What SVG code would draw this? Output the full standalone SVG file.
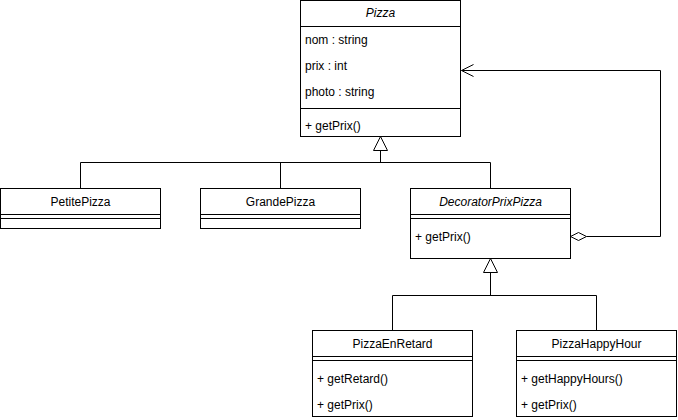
<svg xmlns="http://www.w3.org/2000/svg" width="678" height="420" viewBox="0 0 678 420">
<style>
.box{fill:#fff;stroke:#000;stroke-width:1}
.ln{stroke:#000;stroke-width:1;fill:none}
.t{font-family:"Liberation Sans",Arial,sans-serif;font-size:12px;fill:#000}
.c{text-anchor:middle}
.i{font-style:italic}
</style>
<rect width="678" height="420" fill="#fff"/>
<g id="connectors">
<path class="ln" d="M380.5 150 V162.5 M80.5 162.5 H490.5 M80.5 162.5 V188.5 M280.5 162.5 V188.5 M490.5 162.5 V188.5"/>
<polygon class="box" points="380.5,136.5 373.5,150.5 387.5,150.5"/>
<path class="ln" d="M490.5 272 V295.5 M392.5 295.5 H596.5 M392.5 295.5 V330.5 M596.5 295.5 V330.5"/>
<polygon class="box" points="490.5,258.5 483.5,272.5 497.5,272.5"/>
<path class="ln" d="M586.5 236.5 H660.5 V70.5 H461.5"/>
<polygon class="box" points="570.5,236.5 578.5,232.5 586.5,236.5 578.5,240.5"/>
<path class="ln" d="M473.5 64.5 L461.5 70.5 L473.5 76.5"/>
</g>
<g id="Pizza">
<rect class="box" x="300.5" y="0.5" width="160" height="136"/>
<path class="ln" d="M300.5 26.5 H460.5 M300.5 108.5 H460.5"/>
<text class="t c i" x="380.5" y="17">Pizza</text>
<text class="t" x="305" y="44">nom : string</text>
<text class="t" x="305" y="70">prix : int</text>
<text class="t" x="305" y="96">photo : string</text>
<text class="t" x="305" y="130">+ getPrix()</text>
</g>
<g id="PetitePizza">
<rect class="box" x="0.5" y="188.5" width="160" height="40"/>
<path class="ln" d="M0.5 214.5 H160.5 M0.5 218.5 H160.5"/>
<text class="t c" x="80.5" y="206">PetitePizza</text>
</g>
<g id="GrandePizza">
<rect class="box" x="200.5" y="188.5" width="160" height="40"/>
<path class="ln" d="M200.5 214.5 H360.5 M200.5 218.5 H360.5"/>
<text class="t c" x="280.5" y="206">GrandePizza</text>
</g>
<g id="DecoratorPrixPizza">
<rect class="box" x="410.5" y="188.5" width="160" height="70"/>
<path class="ln" d="M410.5 214.5 H570.5 M410.5 218.5 H570.5"/>
<text class="t c i" x="490.5" y="206">DecoratorPrixPizza</text>
<text class="t" x="415" y="241">+ getPrix()</text>
</g>
<g id="PizzaEnRetard">
<rect class="box" x="312.5" y="330.5" width="160" height="86"/>
<path class="ln" d="M312.5 356.5 H472.5 M312.5 360.5 H472.5"/>
<text class="t c" x="392.5" y="348">PizzaEnRetard</text>
<text class="t" x="317" y="383">+ getRetard()</text>
<text class="t" x="317" y="409">+ getPrix()</text>
</g>
<g id="PizzaHappyHour">
<rect class="box" x="516.5" y="330.5" width="160" height="86"/>
<path class="ln" d="M516.5 356.5 H676.5 M516.5 360.5 H676.5"/>
<text class="t c" x="596.5" y="348">PizzaHappyHour</text>
<text class="t" x="521" y="383">+ getHappyHours()</text>
<text class="t" x="521" y="409">+ getPrix()</text>
</g>
</svg>
